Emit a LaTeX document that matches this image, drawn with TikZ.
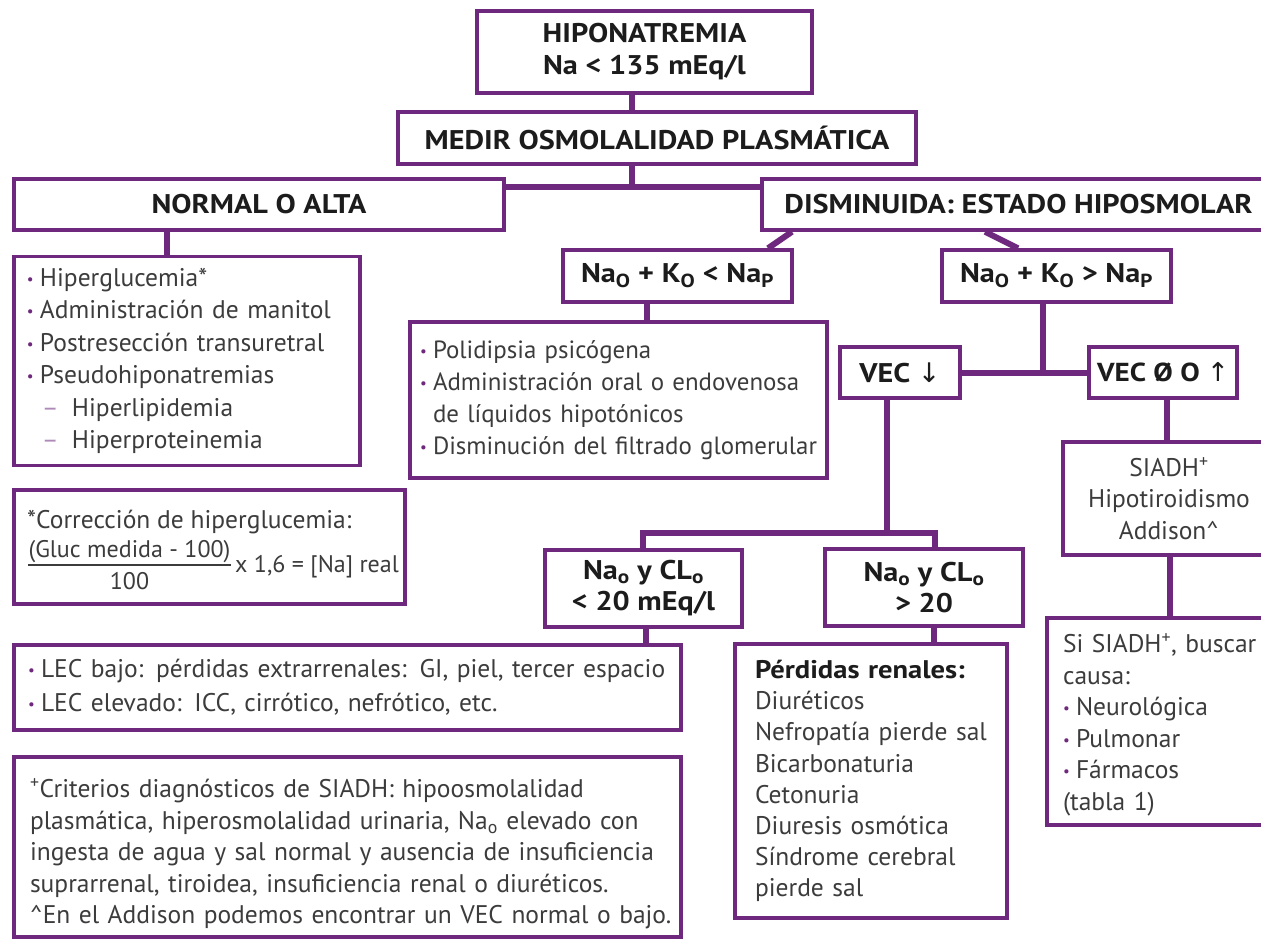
\documentclass[tikz,border=0pt]{standalone}
\usepackage{fontspec}
\setmainfont{PT Sans}
\newfontfamily\hdfont[FakeStretch=1.12]{PT Sans}
\newfontfamily\arrowfont{DejaVu Sans}
\usetikzlibrary{calc}
\definecolor{pur}{RGB}{110,40,125}
\definecolor{txt}{RGB}{60,60,60}
\definecolor{hd}{RGB}{28,28,28}
\newcommand\bul{\makebox[13pt][l]{\textcolor{pur}{\fontsize{15}{15}\selectfont\raisebox{2pt}{•}}}}
\newcommand\dsh{\hspace*{15pt}\makebox[30pt][l]{\textcolor{pur!55}{–}}}
\newcommand\ar[1]{{\arrowfont\mdseries #1}}
\newcommand\mb[1]{\mbox{#1}}
\begin{document}
\begin{tikzpicture}[x=1pt,y=-1pt,
  box/.style={draw=pur,line width=3.5pt,fill=white,inner sep=0pt},
  hbox/.style={box,font=\hdfont\fontsize{27}{32}\selectfont\bfseries,text=hd,align=center},
  lbox/.style={box,font=\fontsize{25.5}{31.5}\selectfont,text=txt,align=left},
  cbox/.style={box,font=\fontsize{25.5}{31.5}\selectfont,text=txt,align=center},
  conn/.style={draw=pur,line width=6pt,line join=miter},
  lbl/.style={inner sep=0pt,font=\fontsize{24}{31.5}\selectfont,text=txt}]
\useasboundingbox (0,0) rectangle (1261,938);
\clip (0,0) rectangle (1261,938);
\fill[white] (0,0) rectangle (1261,938);

% boxes
\node[hbox,minimum width=335pt,minimum height=82pt] (hipo) at (644.5,52) {HIPONATREMIA\\Na < 135 mEq/l};
\node[hbox,minimum width=518pt,minimum height=52pt] (medir) at (657,138) {MEDIR OSMOLALIDAD PLASMÁTICA};
\node[hbox,minimum width=490pt,minimum height=51pt] (normal) at (259,204.5) {NORMAL O ALTA};
\node[hbox,minimum width=513pt,minimum height=51pt] (dism) at (1018.5,204.5) {DISMINUIDA: ESTADO HIPOSMOLAR};

\node[lbox,font=\fontsize{25.5}{32.4}\selectfont,minimum width=346pt,minimum height=209pt,text width=320pt] (lista) at (187,361)
 {\bul\mb{Hiperglucemia*}\\\bul\mb{Administración de manitol}\\\bul\mb{Postresección transuretral}\\\bul\mb{Pseudohiponatremias}\\\dsh\mb{Hiperlipidemia}\\\dsh\mb{Hiperproteinemia}};

\node[box,minimum width=391pt,minimum height=114pt] (corr) at (209.5,547) {};
\node[lbl,font=\fontsize{25.5}{31.5}\selectfont,anchor=base west] (corrT) at (27,528) {*Corrección de hiperglucemia:};
\node[lbl,anchor=base] (num) at (129.5,557) {(Gluc medida - 100)};
\node[lbl,anchor=base] (den) at (129.5,589) {100};
\node[lbl,anchor=base west] (rest) at (235,572) {x 1,6 = [Na] real};
\draw[txt,line width=1.4pt] ([yshift=-8pt]num.base west) -- ([yshift=-8pt]num.base east);

\node[hbox,minimum width=229pt,minimum height=52pt] (nakm) at (677.5,276) {Na\textsubscript{O} + K\textsubscript{O} < Na\textsubscript{P}};
\node[hbox,minimum width=229pt,minimum height=52pt] (nakp) at (1056.5,276) {Na\textsubscript{O} + K\textsubscript{O} > Na\textsubscript{P}};

\node[lbox,font=\fontsize{24.9}{32}\selectfont,minimum width=417pt,minimum height=156pt,text width=397pt] (listb) at (618.5,400)
 {\bul\mb{Polidipsia psicógena}\\\bul\mb{Administración oral o endovenosa}\\\hspace*{13pt}\mb{de líquidos hipotónicos}\\\bul\mb{Disminución del filtrado glomerular}};

\node[hbox,minimum width=120pt,minimum height=51pt] (vecd) at (900,372.5) {VEC \ar{↓}};
\node[hbox,font=\hdfont\fontsize{26}{32}\selectfont\bfseries,minimum width=148pt,minimum height=51pt] (vecu) at (1163,372.5) {VEC Ø O \ar{↑}};

\node[cbox,minimum width=212pt,minimum height=113pt] (siadh) at (1169,498.5) {SIADH\textsuperscript{+}\\Hipotiroidismo\\Addison\textasciicircum};

\node[hbox,font=\hdfont\fontsize{27}{31}\selectfont\bfseries,minimum width=197pt,minimum height=77pt] (clow) at (643.5,588.5) {Na\textsubscript{o} y CL\textsubscript{o}\\< 20 mEq/l};
\node[hbox,font=\hdfont\fontsize{27}{31}\selectfont\bfseries,minimum width=198pt,minimum height=77pt] (chigh) at (924,587.5) {Na\textsubscript{o} y CL\textsubscript{o}\\> 20};

\node[lbox,font=\fontsize{25.5}{34}\selectfont,minimum width=667pt,minimum height=85pt,text width=639pt] (lec) at (347.5,687.5)
 {\bul\mb{LEC bajo: pérdidas extrarrenales: GI, piel, tercer espacio}\\\bul\mb{LEC elevado: ICC, cirrótico, nefrótico, etc.}};

\node[lbox,minimum width=667pt,minimum height=180pt,text width=635pt] (crit) at (347.5,847)
 {\rule{0pt}{33pt}\mb{\textsuperscript{+}Criterios diagnósticos de SIADH: hipoosmolalidad}\\\mb{plasmática, hiperosmolalidad urinaria, Na\textsubscript{o} elevado con}\\\mb{ingesta de agua y sal normal y ausencia de insuficiencia}\\\mb{suprarrenal, tiroidea, insuficiencia renal o diuréticos.}\\\mb{\textasciicircum En el Addison podemos encontrar un VEC normal o bajo.}};

\node[lbox,font=\fontsize{25.5}{31.2}\selectfont,minimum width=272pt,minimum height=274pt,text width=232pt] (perd) at (871,781)
 {\mb{\color{hd}\hdfont\bfseries Pérdidas renales:}\\\mb{Diuréticos}\\\mb{Nefropatía pierde sal}\\\mb{Bicarbonaturia}\\\mb{Cetonuria}\\\mb{Diuresis osmótica}\\\mb{Síndrome cerebral}\\\mb{pierde sal}};

\node[lbox,minimum width=228pt,minimum height=207pt,text width=196pt] (sibus) at (1161,721.5)
 {\rule{0pt}{26pt}\mb{Si SIADH\textsuperscript{+}, buscar}\\\mb{causa:}\\\bul\mb{Neurológica}\\\bul\mb{Pulmonar}\\\bul\mb{Fármacos}\\\mb{(tabla 1)}};

% connectors
\coordinate (cA) at (632,187);
\draw[conn] (hipo.south -| cA) -- (medir.north -| cA);
\draw[conn] (medir.south -| cA) -- (cA);
\draw[conn] (normal.east |- cA) -- (dism.west |- cA);
\coordinate (cB) at (167,0);
\draw[conn] (normal.south -| cB) -- (lista.north -| cB);
\coordinate (cC1) at (792,0); \coordinate (cC2) at (768,0);
\draw[conn] (dism.south -| cC1) -- (nakm.north -| cC2);
\coordinate (cD1) at (985,0); \coordinate (cD2) at (1018,0);
\draw[conn] (dism.south -| cD1) -- (nakp.north -| cD2);
\coordinate (cE) at (647,0);
\draw[conn] (nakm.south -| cE) -- (listb.north -| cE);
\coordinate (cF) at (1043,372.5);
\draw[conn] (nakp.south -| cF) -- (cF);
\draw[conn] (vecd.east |- cF) -- (vecu.west |- cF);
\coordinate (cG) at (887,533); \coordinate (cG1) at (643,533); \coordinate (cG2) at (935,533);
\draw[conn] (vecd.south -| cG) -- (cG);
\draw[conn] (clow.north -| cG1) -- (cG1) -- (cG2) -- (chigh.north -| cG2);
\coordinate (cH) at (1167,0);
\draw[conn] (vecu.south -| cH) -- (siadh.north -| cH);
\coordinate (cI) at (1170,0);
\draw[conn] (siadh.south -| cI) -- (sibus.north -| cI);
\coordinate (cJ) at (646,0);
\draw[conn] (clow.south -| cJ) -- (lec.north -| cJ);
\coordinate (cK) at (934,0);
\draw[conn] (chigh.south -| cK) -- (perd.north -| cK);
\end{tikzpicture}
\end{document}
